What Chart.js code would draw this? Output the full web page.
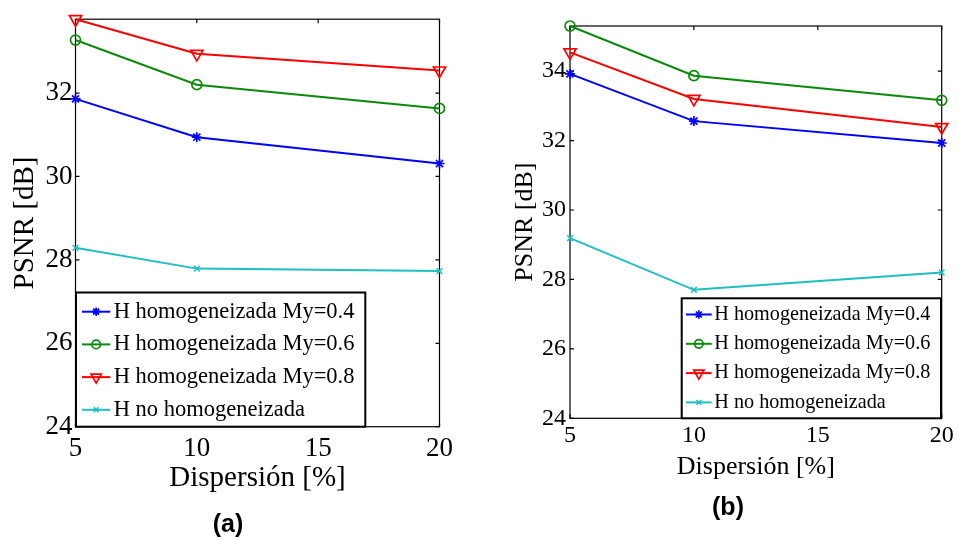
<!DOCTYPE html>
<html><head><meta charset="utf-8">
<script src="https://cdn.jsdelivr.net/npm/chart.js@4.4.1/dist/chart.umd.min.js"></script>
<style>
html,body{margin:0;padding:0;background:#fff;}
body{width:959px;height:540px;position:relative;overflow:hidden;}
.wrap{position:absolute;top:0;height:540px;}
#w1{left:0;width:480px;}
#w2{left:480px;width:479px;}
.sub{position:absolute;font-family:'Liberation Sans',Arial,sans-serif;font-weight:bold;font-size:25px;line-height:1;transform:translate(-50%,-50%);color:#000;}
</style></head><body>
<div class="wrap" id="w1"><canvas id="c1" width="480" height="540"></canvas></div>
<div class="wrap" id="w2"><canvas id="c2" width="479" height="540"></canvas></div>
<div class="sub" style="left:228px;top:523px">(a)</div>
<div class="sub" style="left:728px;top:506px">(b)</div>
<script>
// ---------- data ----------
const dispersion = [5, 10, 20];
const xTicks = [5, 10, 15, 20];
const yTicks = [24, 26, 28, 30, 32, 34];
const seriesLabels = ['H homogeneizada My=0.4', 'H homogeneizada My=0.6', 'H homogeneizada My=0.8', 'H no homogeneizada'];
const xTitle = 'Dispersión [%]';
const yTitle = 'PSNR [dB]';
// panel (a)
const aMy04  = [31.86, 30.94, 30.31];
const aMy06  = [33.27, 32.20, 31.63];
const aMy08  = [33.77, 32.94, 32.54];
const aNoHom = [28.29, 27.79, 27.73];
const aYMin = 24, aYMax = 33.77;
// panel (b)
const bMy04  = [33.92, 32.56, 31.93];
const bMy06  = [35.30, 33.87, 33.16];
const bMy08  = [34.54, 33.20, 32.39];
const bNoHom = [29.19, 27.70, 28.20];
const bYMin = 24, bYMax = 35.30;

// ---------- styles ----------
const STYLES = [
  {color:'#0000ff', pointStyle:'star',     radius:5,   rotation:0,   pbw:1.7},
  {color:'#0a8a0a', pointStyle:'circle',   radius:5,   rotation:0,   pbw:1.7},
  {color:'#ff0000', pointStyle:'triangle', radius:7,   rotation:180, pbw:1.7},
  {color:'#1fbfbf', pointStyle:'crossRot', radius:4,   rotation:0,   pbw:1.5}
];
const SERIF = "'Liberation Serif','Times New Roman',serif";

const boxTicksPlugin = {
  id: 'boxTicks',
  beforeDatasetsDraw(chart, args, o) {
    const {ctx, chartArea: a, scales: {x, y}} = chart;
    ctx.save();
    ctx.strokeStyle = '#000';
    ctx.lineWidth = o.lineWidth;
    ctx.strokeRect(a.left, a.top, a.right - a.left, a.bottom - a.top);
    const L = o.tickLen;
    ctx.beginPath();
    x.ticks.forEach(t => {
      const px = x.getPixelForValue(t.value);
      ctx.moveTo(px, a.bottom); ctx.lineTo(px, a.bottom - L);
      ctx.moveTo(px, a.top); ctx.lineTo(px, a.top + L);
    });
    y.ticks.forEach(t => {
      const py = y.getPixelForValue(t.value);
      ctx.moveTo(a.left, py); ctx.lineTo(a.left + L, py);
      ctx.moveTo(a.right, py); ctx.lineTo(a.right - L, py);
    });
    ctx.stroke();
    ctx.restore();
  }
};

const boxLegendPlugin = {
  id: 'boxLegend',
  afterDatasetsDraw(chart, args, o) {
    const ctx = chart.ctx;
    ctx.save();
    ctx.fillStyle = '#fff';
    ctx.fillRect(o.x0, o.y0, o.x1 - o.x0, o.y1 - o.y0);
    ctx.lineWidth = o.borderWidth;
    ctx.strokeStyle = '#000';
    ctx.strokeRect(o.x0, o.y0, o.x1 - o.x0, o.y1 - o.y0);
    chart.data.datasets.forEach((ds, i) => {
      const cy = o.rowTop + i * o.rowGap;
      ctx.strokeStyle = ds.borderColor;
      ctx.lineWidth = ds.borderWidth;
      ctx.beginPath(); ctx.moveTo(o.lineX0, cy); ctx.lineTo(o.lineX1, cy); ctx.stroke();
      ctx.fillStyle = 'rgba(0,0,0,0)';
      ctx.lineWidth = ds.pointBorderWidth;
      Chart.helpers.drawPoint(ctx, {
        pointStyle: ds.pointStyle, radius: ds.pointRadius * o.markerScale,
        rotation: ds.pointRotation || 0, borderWidth: ds.pointBorderWidth
      }, (o.lineX0 + o.lineX1) / 2, cy);
      ctx.fillStyle = '#000';
      ctx.font = o.fontSize + 'px ' + SERIF;
      ctx.textBaseline = 'middle';
      ctx.textAlign = 'left';
      ctx.fillText(ds.label, o.textX, cy);
    });
    ctx.restore();
  }
};

function makeChart(id, series, yMin, yMax, G) {
  const datasets = series.map((vals, i) => ({
    label: seriesLabels[i],
    data: dispersion.map((d, j) => ({x: d, y: vals[j]})),
    borderColor: STYLES[i].color,
    backgroundColor: STYLES[i].color,
    pointBorderColor: STYLES[i].color,
    pointBackgroundColor: 'rgba(0,0,0,0)',
    pointStyle: STYLES[i].pointStyle,
    pointRadius: STYLES[i].radius,
    pointRotation: STYLES[i].rotation,
    pointBorderWidth: STYLES[i].pbw,
    borderWidth: 2,
    tension: 0, fill: false, clip: false
  }));
  const tickFont = {family: SERIF, size: G.tickSize};
  const titleFont = {family: SERIF, size: G.titleSize};
  return new Chart(document.getElementById(id), {
    type: 'line',
    data: {datasets},
    options: {
      responsive: false, animation: false, devicePixelRatio: 1,
      layout: {padding: {left: 0, top: G.top, right: G.right, bottom: G.bottom}},
      plugins: {
        legend: {display: false}, tooltip: {enabled: false},
        boxTicks: {lineWidth: 1.2, tickLen: 4},
        boxLegend: G.legend
      },
      scales: {
        x: {
          type: 'linear', min: 5, max: 20,
          grid: {display: false, drawTicks: false}, border: {display: false},
          afterBuildTicks: s => { s.ticks = xTicks.map(v => ({value: v})); },
          afterFit: s => { s.height = G.xH; },
          ticks: {font: tickFont, color: '#000', padding: G.xTickPad, maxRotation: 0, autoSkip: false},
          title: {display: true, text: xTitle, font: titleFont, color: '#000', padding: {top: 0, bottom: G.xTitlePad}}
        },
        y: {
          type: 'linear', min: yMin, max: yMax,
          grid: {display: false, drawTicks: false}, border: {display: false},
          afterBuildTicks: s => { s.ticks = yTicks.filter(v => v >= yMin && v <= yMax).map(v => ({value: v})); },
          afterFit: s => { s.width = G.yW; },
          ticks: {font: tickFont, color: '#000', padding: G.yTickPad, autoSkip: false},
          title: {display: true, text: yTitle, font: titleFont, color: '#000', padding: {top: G.yTitlePad, bottom: 0}}
        }
      }
    },
    plugins: [boxTicksPlugin, boxLegendPlugin]
  });
}

makeChart('c1', [aMy04, aMy06, aMy08, aNoHom], aYMin, aYMax, {
  top: 12, right: 40.5, bottom: 43.3, xH: 70, yW: 75.5,
  tickSize: 27, titleSize: 29, xTickPad: 6, xTitlePad: 1.3, yTickPad: 3, yTitlePad: 8.3,
  legend: {x0: 76, x1: 365.3, y0: 292.5, y1: 426.7, borderWidth: 2,
           rowTop: 311.7, rowGap: 32.7, lineX0: 82, lineX1: 110.3, textX: 113.7,
           fontSize: 22.5, markerScale: 0.85}
});
makeChart('c2', [bMy04, bMy06, bMy08, bNoHom], bYMin, bYMax, {
  top: 26, right: 17.3, bottom: 51.7, xH: 70, yW: 90,
  tickSize: 24, titleSize: 26, xTickPad: 3.3, xTitlePad: 5.7, yTickPad: 4, yTitlePad: 29.4,
  legend: {x0: 201.7, x1: 461, y0: 298.3, y1: 418.3, borderWidth: 2,
           rowTop: 314.5, rowGap: 29.3, lineX0: 206, lineX1: 231.7, textX: 234.3,
           fontSize: 20.2, markerScale: 0.85}
});
</script>
</body></html>
